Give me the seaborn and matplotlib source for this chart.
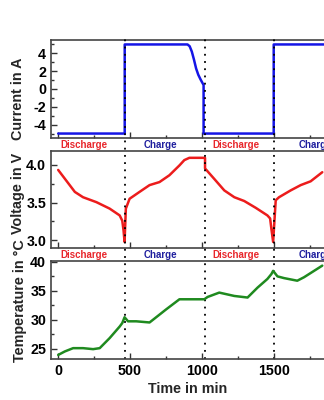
import matplotlib
matplotlib.use("Agg")
import matplotlib.pyplot as plt
import matplotlib.transforms as mtransforms
from matplotlib.ticker import MultipleLocator
import seaborn as sns
import pandas as pd

sns.set_theme(style="white")
plt.rcParams['font.family'] = ['Liberation Sans', 'DejaVu Sans']
plt.rcParams['font.weight'] = 'bold'
plt.rcParams['axes.unicode_minus'] = False

# ---- data ----
current_t = [0, 463, 463, 900, 915, 930, 945, 960, 975, 990, 1000, 1012, 1012, 1500, 1500, 1850]
current_a = [-5, -5, 5, 5, 4.8, 4.2, 3.3, 2.3, 1.6, 1.1, 0.8, 0.45, -5, -5, 5, 5]

voltage_t = [0, 46, 116, 173, 266, 358, 428, 446, 455, 462, 471, 497, 566, 636, 705, 774, 844,
             878, 913, 1022, 1022, 1087, 1156, 1226, 1295, 1375, 1456, 1475, 1484, 1496,
             1514, 1537, 1618, 1688, 1757, 1838]
voltage_v = [3.93, 3.815, 3.64, 3.57, 3.505, 3.42, 3.33, 3.26, 3.13, 2.98, 3.42, 3.55, 3.64, 3.73, 3.77, 3.86, 3.99,
             4.06, 4.09, 4.09, 3.95, 3.81, 3.66, 3.57, 3.52, 3.43, 3.33, 3.29, 3.15, 2.98,
             3.53, 3.57, 3.66, 3.73, 3.78, 3.90]

temp_t = [0, 46, 104, 173, 243, 289, 358, 428, 446, 462, 486, 543, 636, 751, 844, 1017, 1040,
          1121, 1226, 1318, 1387, 1456, 1484, 1496, 1526, 1572, 1664, 1711, 1838]
temp_c = [23.9, 24.5, 25.07, 25.07, 24.9, 25.07, 26.8, 28.8, 29.4, 30.4, 29.7, 29.7, 29.5, 31.75, 33.5, 33.5, 33.9,
          34.65, 34.07, 33.8, 35.5, 37.0, 37.85, 38.4, 37.45, 37.15, 36.7, 37.3, 39.3]

phase_labels = ["Discharge", "Charge", "Discharge", "Charge"]
phase_centers = [176, 710, 1234, 1792]
phase_colors = ["#e8262b", "#1f1f9e", "#e8262b", "#1f1f9e"]
switch_times = [467, 1022, 1500]

x_ticks = [0, 500, 1000, 1500]

# ---- figure ----
fig = plt.figure(figsize=(3.24, 4.0), dpi=100)
left, right = 51 / 324, 1.0
def fy(px):
    return 1 - px / 400

ax1 = fig.add_axes([left, fy(138), right - left, fy(40) - fy(138)])
ax2 = fig.add_axes([left, fy(248), right - left, fy(151) - fy(248)])
ax3 = fig.add_axes([left, fy(359), right - left, fy(261) - fy(359)])

df1 = pd.DataFrame({"t": current_t, "v": current_a})
df2 = pd.DataFrame({"t": voltage_t, "v": voltage_v})
df3 = pd.DataFrame({"t": temp_t, "v": temp_c})

sns.lineplot(data=df1, x="t", y="v", ax=ax1, sort=False, estimator=None, color="#1515e6", lw=1.8)
sns.lineplot(data=df2, x="t", y="v", ax=ax2, sort=False, estimator=None, color="#ec1c1c", lw=1.8)
sns.lineplot(data=df3, x="t", y="v", ax=ax3, sort=False, estimator=None, color="#1f8a1f", lw=1.8)

ax1.set_ylim(-5.5, 5.5)
ax2.set_ylim(2.9, 4.18)
ax3.set_ylim(23.2, 40.1)

ax1.yaxis.set_major_locator(MultipleLocator(2))
ax1.yaxis.set_minor_locator(MultipleLocator(1))
ax2.yaxis.set_major_locator(MultipleLocator(0.5))
ax2.yaxis.set_minor_locator(MultipleLocator(0.25))
ax3.yaxis.set_major_locator(MultipleLocator(5))
ax3.yaxis.set_minor_locator(MultipleLocator(2.5))

ylabels = ["Current in A", "Voltage in V", "Temperature in °C"]
for ax, lab in zip([ax1, ax2, ax3], ylabels):
    ax.set_xlim(-50, 1850)
    ax.set_xticks(x_ticks)
    ax.xaxis.set_minor_locator(MultipleLocator(250))
    ax.tick_params(axis='both', which='both', direction='in', colors='#333333',
                   labelcolor='black', labelsize=10.3, width=1)
    ax.tick_params(axis='both', which='major', length=4)
    ax.tick_params(axis='both', which='minor', length=2.5)
    ax.tick_params(axis='x', which='both', bottom=True, top=False)
    ax.tick_params(axis='y', which='both', left=True, right=False)
    for s in ['left', 'top', 'bottom']:
        ax.spines[s].set_color('#444444')
        ax.spines[s].set_linewidth(1.2)
    ax.spines['right'].set_visible(False)
    ax.set_ylabel(lab, fontsize=10.4, fontweight='bold')
    ax.set_xlabel("")
    ax.set_facecolor('white')
    for t in ax.get_xticklabels() + ax.get_yticklabels():
        t.set_fontweight('bold')

ax1.set_xticklabels([])
ax2.set_xticklabels([])
ax3.set_xlabel("Time in min", fontsize=10.3, fontweight='bold', labelpad=3)

ax1.yaxis.set_label_coords(-0.095, 0.40)
ax2.yaxis.set_label_coords(-0.095, 0.56)
ax3.yaxis.set_label_coords(-0.088, 0.595)

# dotted switch lines across panels
trans = mtransforms.blended_transform_factory(ax3.transData, fig.transFigure)
for st in switch_times:
    ax3.plot([st, st], [fy(359), fy(35)], transform=trans, clip_on=False,
             color='black', lw=1.3, ls=(0, (1, 3)), zorder=0)

# phase labels in the gaps
for gap_y in [fy(144.5), fy(255)]:
    for lab, c, col in zip(phase_labels, phase_centers, phase_colors):
        ax3.text(c, gap_y, lab, transform=trans, ha='center', va='center',
                 fontsize=7, fontweight='bold', color=col, clip_on=False)

fig.savefig("out.png", dpi=100, facecolor='white')
